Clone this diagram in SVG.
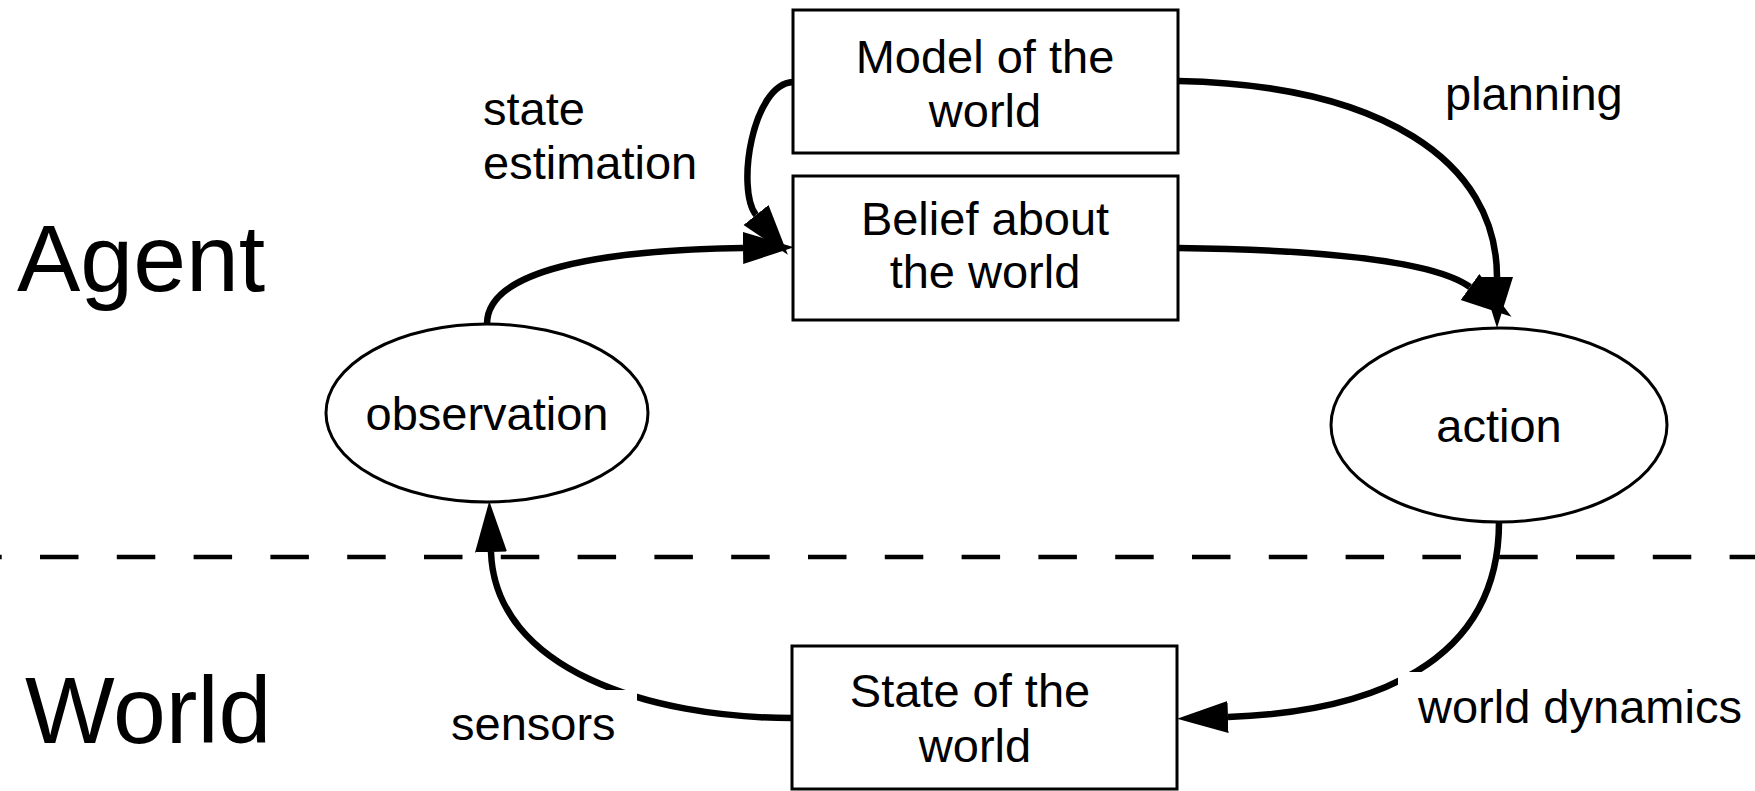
<svg xmlns="http://www.w3.org/2000/svg" width="1755" height="791" viewBox="0 0 1755 791">
  <style>
    .box { fill: #fff; stroke: #000; stroke-width: 3; }
    .txt { font-family: "Liberation Sans", Arial, sans-serif; font-size: 47px; fill: #000; }
    .big { font-family: "Liberation Sans", Arial, sans-serif; font-size: 95px; fill: #000; }
    .mid { text-anchor: middle; }
    .edge { fill: none; stroke: #000; stroke-width: 6.5; }
    .lblbg { fill: #fff; }
  </style>
  <defs>
    <marker id="arrow" viewBox="0 -17 52 34" markerWidth="52" markerHeight="34" refX="0" refY="0" markerUnits="userSpaceOnUse" orient="auto">
      <path d="M0,-16 L51,0 L0,16 Z" fill="#000"/>
    </marker>
  </defs>

  <rect width="1755" height="791" fill="#fff"/>

  <!-- boundary between agent and world -->
  <line id="divider" x1="0" y1="557" x2="1755" y2="557" stroke="#000" stroke-width="4.5" stroke-dasharray="38.5 38.3" stroke-dashoffset="36.8"/>

  <text id="label-agent" class="big" x="17" y="291">Agent</text>
  <text id="label-world" class="big" x="25" y="743">World</text>

  <g id="connectors">
    <!-- planning -->
    <path class="edge" d="M1178,81 C1380,85 1497,160 1497,277" marker-end="url(#arrow)"/>
    <!-- belief to action -->
    <path class="edge" d="M1178,248 C1330,250 1435,262 1470,287" marker-end="url(#arrow)"/>
    <!-- state estimation: model to belief -->
    <path class="edge" d="M793,82 C752,84 736,190 756,215" marker-end="url(#arrow)"/>
    <!-- observation to belief -->
    <path class="edge" d="M487,324 C487,270 600,250 743,248" marker-end="url(#arrow)"/>
    <!-- world dynamics -->
    <path class="edge" d="M1499,522 C1499,665 1370,712 1228,717" marker-end="url(#arrow)"/>
    <!-- sensors -->
    <path class="edge" d="M792,718 C650,718 495,670 491,552" marker-end="url(#arrow)"/>
  </g>

  <g id="edge-labels">
    <g id="lbl-state-estimation">
      <text class="txt" x="483" y="125">state</text>
      <text class="txt" x="483" y="179">estimation</text>
    </g>
    <g id="lbl-planning">
      <text class="txt" x="1445" y="110">planning</text>
    </g>
    <g id="lbl-sensors">
      <rect class="lblbg" x="431" y="690" width="206" height="66"/>
      <text class="txt" x="451" y="740">sensors</text>
    </g>
    <g id="lbl-world-dynamics">
      <rect class="lblbg" x="1398" y="672" width="357" height="66"/>
      <text class="txt" x="1418" y="723">world dynamics</text>
    </g>
  </g>

  <g id="node-model">
    <rect class="box" x="793" y="10" width="385" height="143"/>
    <text class="txt mid" x="985" y="73">Model of the</text>
    <text class="txt mid" x="985" y="127">world</text>
  </g>

  <g id="node-belief">
    <rect class="box" x="793" y="176" width="385" height="144"/>
    <text class="txt mid" x="985" y="235">Belief about</text>
    <text class="txt mid" x="985" y="288">the world</text>
  </g>

  <g id="node-observation">
    <ellipse class="box" cx="487" cy="413" rx="161" ry="89"/>
    <text class="txt mid" x="487" y="430">observation</text>
  </g>

  <g id="node-action">
    <ellipse class="box" cx="1499" cy="425" rx="168" ry="97"/>
    <text class="txt mid" x="1499" y="442">action</text>
  </g>

  <g id="node-state">
    <rect class="box" x="792" y="646" width="385" height="143"/>
    <text class="txt mid" x="970" y="707">State of the</text>
    <text class="txt mid" x="975" y="762">world</text>
  </g>
</svg>
